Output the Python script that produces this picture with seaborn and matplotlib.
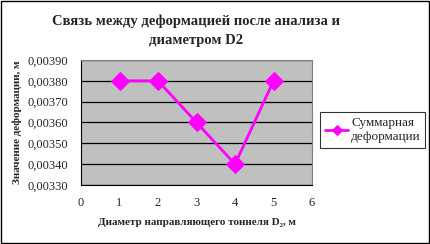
import matplotlib
matplotlib.use("Agg")
import matplotlib.pyplot as plt
import seaborn as sns
import pandas as pd
from matplotlib.patches import Rectangle

x_vals = [1, 2, 3, 4, 5]
y_vals = [0.00380, 0.00380, 0.00360, 0.00340, 0.00380]
series_name = "Суммарная\nдеформации"
title = "Связь между деформацией после анализа и\nдиаметром D2"
xlabel = "Диаметр направляющего тоннеля D\u2082, м"
ylabel = "Значение деформации, м"
yticks = [0.00330, 0.00340, 0.00350, 0.00360, 0.00370, 0.00380, 0.00390]
xticks = [0, 1, 2, 3, 4, 5, 6]

sns.set_style("white")
plt.rcParams['font.family'] = ['Liberation Serif', 'DejaVu Serif']

df = pd.DataFrame({"x": x_vals, "y": y_vals, "s": series_name})

fig = plt.figure(figsize=(4.31, 2.44), dpi=100)
fig.patches.append(Rectangle((0.002, 0.004), 0.994, 0.99, transform=fig.transFigure,
                             fill=False, edgecolor="black", lw=1))
ax = fig.add_axes([0.188, 0.242, 0.536, 0.512])
ax.set_facecolor("#c0c0c0")
sns.lineplot(data=df, x="x", y="y", hue="s", palette=["#ff00ff"], marker="D",
             markersize=9, markeredgecolor="#ff00ff", lw=2, ax=ax)
ax.set_xlim(0, 6)
ax.set_ylim(0.00330, 0.00390)
ax.set_xticks(xticks)
ax.set_yticks(yticks)
ax.set_yticklabels([f"{v:.5f}".replace(".", ",") for v in yticks], fontsize=9)
ax.set_xticklabels([str(v) for v in xticks], fontsize=9)
ax.yaxis.grid(True, color="black", lw=0.9)
ax.set_axisbelow(True)
for s in ["top", "right"]:
    ax.spines[s].set_color("#808080")
ax.spines["left"].set_color("black")
ax.spines["bottom"].set_color("black")
ax.tick_params(axis="both", direction="out", length=3, width=0.8, color="black", pad=6)
ax.set_xlabel(xlabel, fontsize=8, fontweight="bold", labelpad=6)
ax.set_ylabel(ylabel, fontsize=8, fontweight="bold", labelpad=4)
fig.text(0.455, 0.875, title, ha="center", va="center", fontsize=10.5, fontweight="bold",
         linespacing=1.6)
leg = ax.legend(loc="center left", bbox_to_anchor=(1.035, 0.44), fontsize=9.5,
                frameon=True, fancybox=False, edgecolor="black", handlelength=1.8,
                handletextpad=0.2, borderpad=0.35, borderaxespad=0, markerscale=0.6)
leg.get_frame().set_linewidth(0.8)
fig.savefig("out.png", dpi=100)
